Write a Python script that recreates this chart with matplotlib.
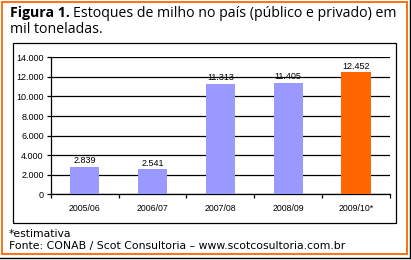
"""Estoques de milho no país (público e privado), mil toneladas."""
import matplotlib
matplotlib.use("Agg")
import matplotlib.pyplot as plt
from matplotlib.patches import Rectangle
from matplotlib.lines import Line2D

W, H = 411, 260

safras = ["2005/06", "2006/07", "2007/08", "2008/09", "2009/10*"]
estoques = [2839, 2541, 11313, 11405, 12452]
rotulos = ["2.839", "2.541", "11.313", "11.405", "12.452"]
yticks = [0, 2000, 4000, 6000, 8000, 10000, 12000, 14000]
ytick_labels = ["0", "2.000", "4.000", "6.000", "8.000", "10.000", "12.000", "14.000"]

LAV = "#9999FF"
ORANGE = "#FF6600"


def fx(px):
    return px / W


def fy(py):
    return 1 - py / H


fig = plt.figure(figsize=(W / 100, H / 100), dpi=100)
fig.patch.set_facecolor("white")

# frame: orange box with a black drop line right/bottom
fig.add_artist(Rectangle((fx(2), fy(253.5)), fx(406.5) - fx(2), fy(1.5) - fy(253.5),
                         transform=fig.transFigure, fill=False, ec=ORANGE, lw=1.3))
fig.add_artist(Line2D([fx(410), fx(410)], [fy(0), fy(258)], transform=fig.transFigure,
                      color="black", lw=1.0))
fig.add_artist(Line2D([fx(0), fx(410)], [fy(258), fy(258)], transform=fig.transFigure,
                      color="black", lw=1.0))
# chart area box
fig.add_artist(Rectangle((fx(13), fy(222.7)), fx(396) - fx(13), fy(42.7) - fy(222.7),
                         transform=fig.transFigure, fill=False, ec="black", lw=0.9))

tfont = ["Open Sans", "DejaVu Sans"]
bold = fig.text(fx(10), fy(17), "Figura 1.", fontsize=10.2, fontweight="bold",
                family=tfont, va="baseline", ha="left")
fig.canvas.draw()
bb = bold.get_window_extent()
fig.text(fx(bb.x1 + 3.5), fy(17), "Estoques de milho no país (público e privado) em",
         fontsize=10.2, family=tfont, va="baseline", ha="left")
fig.text(fx(10), fy(33), "mil toneladas.", fontsize=10.2, family=tfont,
         va="baseline", ha="left")
fig.text(fx(9), fy(236.7), "*estimativa", fontsize=7.8, family="DejaVu Sans",
         va="baseline", ha="left")
fig.text(fx(9), fy(249.5), "Fonte: CONAB / Scot Consultoria – www.scotcosultoria.com.br",
         fontsize=7.8, family="DejaVu Sans", va="baseline", ha="left")

ax = fig.add_axes([fx(50.7), fy(194.3), fx(390) - fx(50.7), fy(57.3) - fy(194.3)])
x = list(range(len(safras)))
cores = [LAV, LAV, LAV, LAV, ORANGE]
ax.bar(x, estoques, width=0.43, color=cores, zorder=3)
for xi, v, lab in zip(x, estoques, rotulos):
    ax.text(xi, v + 150, lab, ha="center", va="bottom", fontsize=6.5,
            family="Liberation Sans")

ax.set_xlim(-0.5, len(safras) - 0.5)
ax.set_ylim(0, 14000)
ax.set_yticks(yticks)
ax.set_yticklabels(ytick_labels, family="Liberation Sans", fontsize=6.5)
ax.yaxis.grid(True, color="black", lw=0.9, zorder=1)
ax.set_xticks(x)
ax.set_xticklabels(safras, family="Liberation Sans", fontsize=6.3)
ax.tick_params(axis="x", which="major", length=0, pad=7)
ax.set_xticks([i + 0.5 for i in range(-1, len(safras))], minor=True)
ax.tick_params(axis="x", which="minor", length=3, width=0.9, direction="out")
ax.tick_params(axis="y", length=3, width=0.9, pad=2)
for s in ["top", "right"]:
    ax.spines[s].set_visible(False)
ax.spines["left"].set_linewidth(0.9)
ax.spines["bottom"].set_linewidth(0.9)

fig.savefig("out.png", dpi=100, facecolor="white")
